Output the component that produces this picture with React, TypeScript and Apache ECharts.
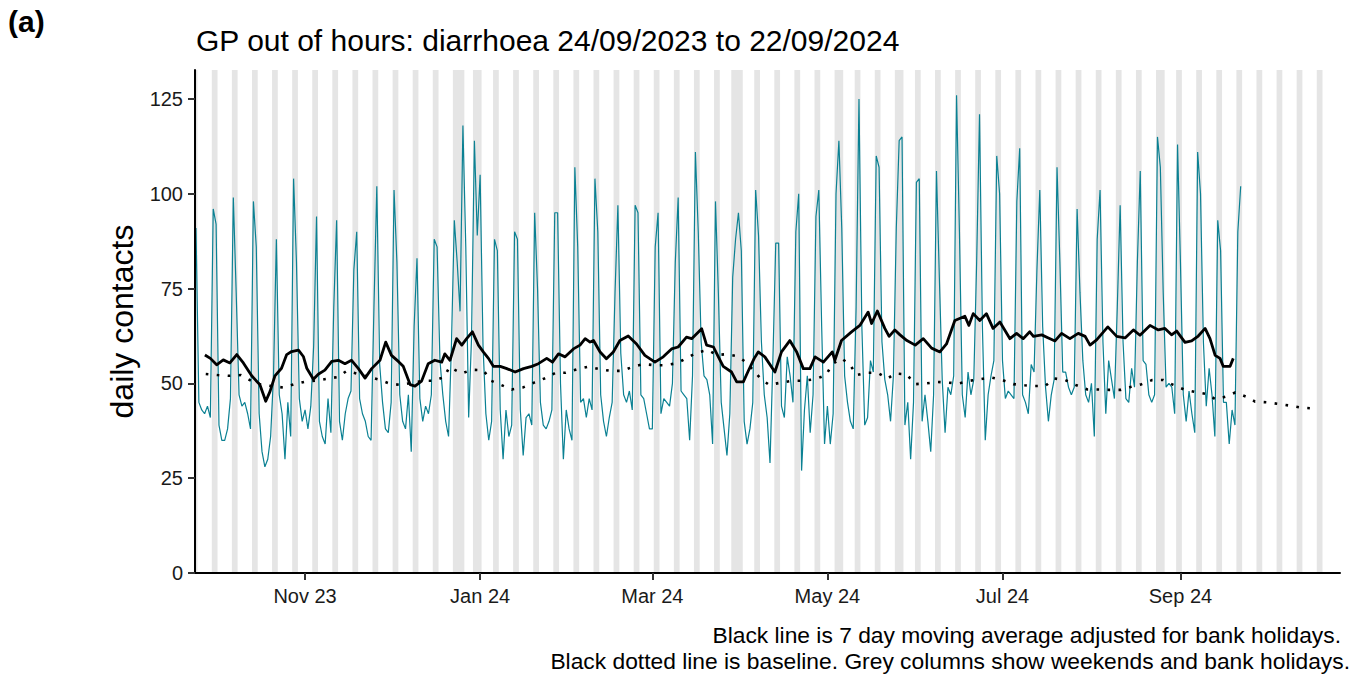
import React, { useEffect, useRef } from "react";
import * as echarts from "echarts";

// Day 0 = Sunday 24/09/2023
const startDate = "2023-09-24";

// Daily contacts, one row per week (Sun..Sat)
const dailyContacts = [
  91, 45, 43, 42, 44, 41, 96,
  92, 39, 35, 35, 38, 46, 99,
  74, 47, 44, 45, 42, 38, 98,
  86, 42, 32, 28, 30, 36, 52,
  88, 47, 42, 30, 45, 36, 104,
  82, 46, 40, 43, 38, 44, 60,
  94, 40, 36, 34, 46, 37, 70,
  93, 40, 35, 42, 46, 48, 80,
  90, 46, 42, 40, 36, 35, 70,
  102, 55, 45, 38, 37, 45, 101,
  82, 47, 40, 38, 47, 32, 65,
  83, 46, 40, 44, 42, 47, 88,
  86, 56, 47, 40, 36, 60, 93,
  82, 69, 118, 86, 41, 62, 114,
  89, 105, 60, 42, 35, 40, 88,
  85, 43, 30, 43, 36, 39, 90,
  88, 43, 31, 41, 42, 39, 95,
  75, 45, 39, 38, 40, 43, 95,
  95, 50, 30, 43, 38, 35, 107,
  86, 45, 46, 41, 46, 43, 104,
  90, 47, 40, 36, 41, 45, 74,
  97, 58, 47, 45, 48, 43, 97,
  95, 47, 46, 42, 38, 38, 86,
  95, 42, 46, 45, 44, 50, 82,
  99, 48, 47, 46, 35, 52, 111,
  90, 61, 52, 51, 47, 34, 98,
  74, 45, 38, 31, 42, 78, 88,
  95, 85, 40, 34, 38, 45, 101,
  89, 61, 47, 41, 29, 56, 87,
  87, 44, 41, 57, 52, 45, 90,
  100, 27, 43, 52, 37, 47, 94,
  101, 65, 34, 44, 34, 42, 100,
  114, 91, 52, 45, 40, 38, 70,
  125, 65, 39, 41, 56, 53, 110,
  107, 61, 51, 47, 40, 52, 91,
  114, 115, 39, 45, 30, 45, 103,
  104, 40, 47, 40, 32, 47, 106,
  78, 51, 37, 49, 47, 52, 126,
  90, 47, 41, 53, 47, 51, 82,
  121, 65, 35, 47, 52, 56, 110,
  100, 56, 46, 48, 47, 46, 98,
  112, 47, 45, 42, 55, 53, 80,
  101, 65, 49, 40, 47, 51, 107,
  82, 53, 53, 49, 47, 49, 96,
  74, 56, 47, 45, 50, 36, 88,
  101, 61, 42, 56, 51, 46, 70,
  97, 61, 46, 45, 54, 49, 82,
  106, 56, 55, 47, 45, 47, 115,
  107, 74, 49, 50, 49, 42, 113,
  82, 47, 40, 48, 42, 37, 111,
  100, 61, 44, 54, 47, 36, 93,
  85, 45, 45, 34, 43, 39, 90,
  102,
];

// 7 day moving average
const maDays = [
  3.1, 5, 7.2, 9.5, 11.8, 14.2, 16.5, 19.4, 22.3, 24.3, 25.8, 27.5, 29.8, 31.6, 33.3, 35.7, 37.4, 38.6, 40.9, 42.6,
  44.9, 47.3, 49.6, 51.9, 54.2, 56.6, 58.9, 61.2, 64.1, 66.1, 68.1, 70.5, 72.2, 74.6, 76.3, 78.6, 80.9, 83.2, 85.6, 86.7,
  88.5, 90.8, 92.6, 94.3, 96.3, 98.4, 100.1, 101.9, 103.6, 106.0, 108.3, 111.2, 114.1, 117.0, 119.3, 122.2, 124.2, 126.3, 128.6, 131.5,
  133.8, 135.6, 137.3, 138.5, 140.8, 143.0, 145.4, 147.7, 150.6, 153.5, 156.4, 159.9, 162.8, 165.7, 168.0, 170.9, 172.7, 176.2, 177.9, 180.3,
  182.0, 183.7, 186.6, 188.4, 190.7, 192.5, 194.5, 195.9, 198.2, 201.7, 204.0, 206.9, 209.3, 211.6, 213.9, 215.7, 218.6, 221.7, 222.6, 224.9,
  228.4, 231.3, 234.2, 235.4, 237.4, 240.0, 241.5, 243.5, 245.3, 247.7, 250.6, 253.4, 256.3, 259.2, 261.5, 264.4, 267.9, 269.3, 270.8, 273.1,
  275.4, 277.7, 280.1, 283.6, 285.9, 288.2, 290.5, 291.8, 294.7, 297.0, 299.3, 301.6, 304.5, 307.4, 309.8, 311.5, 313.8, 317.7, 320.8, 323.7,
  326.6, 328.9, 332.4, 335.3, 337.6, 339.9, 341.7, 344.6, 346.9, 349.2, 351.6, 353.3, 355.1, 356.8, 357.9, 360.3, 361.4,
];
const maValues = [
  57.5, 56.6, 54.9, 56.2, 55.4, 57.6, 55.4, 52.0, 49.6, 45.3, 47.9, 52.0, 54.0, 57.6, 58.4, 58.8, 57.1, 54.0, 51.1, 52.4,
  53.5, 55.8, 56.1, 55.2, 56.1, 53.9, 51.4, 53.9, 56.1, 60.9, 57.4, 55.8, 54.5, 49.7, 49.3, 50.6, 55.2, 56.1, 55.6, 57.8,
  56.1, 61.8, 60.1, 61.8, 63.6, 60.1, 58.3, 56.6, 54.5, 54.5, 53.9, 53.0, 53.9, 54.5, 55.2, 56.6, 55.6, 57.8, 57.0, 59.1,
  60.1, 61.8, 60.9, 61.3, 58.3, 56.5, 58.3, 61.3, 62.5, 60.4, 57.4, 55.6, 57.0, 59.1, 59.6, 62.2, 61.8, 64.4, 60.1, 59.6,
  57.0, 54.5, 53.0, 50.4, 50.4, 53.4, 56.6, 58.3, 57.0, 53.0, 58.3, 61.3, 58.3, 53.9, 53.9, 57.0, 55.6, 58.3, 56.1, 61.3,
  63.6, 65.3, 68.8, 65.8, 69.1, 64.5, 62.4, 64.1, 62.8, 61.3, 60.1, 61.8, 59.3, 58.3, 60.4, 66.6, 67.7, 65.3, 68.4, 66.6,
  68.4, 64.5, 66.2, 61.8, 63.2, 61.8, 63.6, 62.4, 62.8, 62.0, 61.2, 63.2, 61.8, 63.2, 62.4, 60.1, 61.5, 64.9, 62.4, 62.0,
  64.1, 62.7, 65.3, 64.1, 64.5, 62.8, 63.8, 60.8, 61.2, 62.5, 64.5, 61.8, 57.4, 56.6, 54.5, 54.5, 56.6,
];

// Baseline
const baselineDays = [
  3.4, 7.5, 11.6, 15.7, 19.2, 22.9, 30.7, 34.3, 38.2, 41.7, 45.5, 49.6, 52.5, 63.3, 67.3, 71.2, 79.0, 83.0, 86.5, 88.3,
  92.6, 96.0, 100.1, 102.8, 106.3, 110.0, 113.8, 117.8, 121.4, 125.3, 128.8, 132.7, 136.7, 140.8, 144.6, 148.6, 152.2, 155.9, 159.7, 163.6,
  167.5, 171.3, 174.5, 178.3, 181.4, 184.9, 188.4, 191.5, 196.7, 199.7, 203.8, 207.8, 211.6, 215.7, 219.5, 221.7, 224.9, 227.8, 230.2, 233.6,
  237.4, 241.0, 243.5, 247.6, 250.5, 254.5, 258.3, 262.1, 265.8, 269.7, 273.1, 277.0, 280.9, 284.8, 288.7, 292.1, 295.8, 299.1, 302.8, 306.5,
  310.6, 314.4, 318.1, 322.3, 325.8, 329.5, 333.2, 337.0, 340.5, 344.6, 348.3, 352.1, 355.3, 358.8, 362.1, 365.9, 369.0, 373.2, 377.2, 381.4,
  385.1, 389.1,
];
const baselineValues = [
  52.5, 52.2, 52.0, 52.2, 50.7, 49.6, 48.9, 49.8, 50.5, 50.7, 51.2, 51.7, 53.3, 51.1, 50.0, 49.6, 50.7, 50.7, 51.7, 54.3,
  52.6, 53.6, 53.5, 50.7, 49.6, 48.4, 48.9, 50.2, 51.3, 52.8, 52.8, 53.7, 54.4, 53.7, 53.3, 53.3, 54.4, 55.1, 54.8, 54.8,
  55.3, 56.8, 58.1, 58.8, 57.5, 57.7, 57.2, 55.7, 51.3, 49.6, 50.2, 50.7, 50.7, 51.1, 52.2, 55.1, 56.6, 55.0, 52.2, 52.8,
  52.8, 51.3, 52.6, 52.4, 49.8, 50.0, 50.4, 50.2, 50.0, 50.7, 51.1, 51.6, 50.9, 49.8, 49.5, 49.3, 49.3, 51.3, 50.9, 49.6,
  48.4, 48.4, 48.3, 48.3, 49.1, 49.8, 50.9, 50.9, 49.6, 48.3, 47.7, 47.2, 45.8, 46.5, 47.6, 46.5, 45.2, 45.0, 44.6, 44.1,
  43.6, 43.4,
];

// Bank holidays (day offsets): 25/12, 26/12, 01/01, 29/03, 01/04, 06/05, 27/05, 26/08
const bankHolidayDays = [92, 93, 99, 187, 190, 225, 246, 337];
const shadedLastDay = 392; // 20/10/2024

const tickDays = [38, 99, 159, 220, 281, 343];
const tickLabels = ["Nov 23", "Jan 24", "Mar 24", "May 24", "Jul 24", "Sep 24"];
const yTicks = [0, 25, 50, 75, 100, 125];

const FONT = "'Liberation Sans', Arial, Helvetica, sans-serif";
const TEAL = "#0b8193";

function shadedRanges(): [number, number][] {
  const base = new Date(startDate + "T00:00:00Z").getTime();
  const grey: boolean[] = [];
  for (let d = 0; d <= shadedLastDay; d++) {
    const dow = new Date(base + d * 86400000).getUTCDay();
    grey.push(dow === 0 || dow === 6 || bankHolidayDays.includes(d));
  }
  const ranges: [number, number][] = [];
  let s = -1;
  for (let d = 0; d <= shadedLastDay + 1; d++) {
    const g = d <= shadedLastDay && grey[d];
    if (g && s < 0) s = d;
    if (!g && s >= 0) {
      ranges.push([s - 0.5, d - 1 + 0.5]);
      s = -1;
    }
  }
  return ranges;
}

export default function App() {
  const ref = useRef<HTMLDivElement>(null);
  useEffect(() => {
    if (!ref.current) return;
    const chart = echarts.init(ref.current, undefined, { renderer: "svg" });
    const ranges = shadedRanges();
    chart.setOption({
      animation: false,
      backgroundColor: "#ffffff",
      grid: { left: 195, right: 25, top: 70, bottom: 105 },
      xAxis: {
        type: "value",
        min: -0.35,
        max: 398.6,
        z: 10,
        axisLine: { show: true, onZero: false, lineStyle: { color: "#000", width: 2 } },
        axisTick: { show: true, customValues: tickDays, length: 7, lineStyle: { color: "#333", width: 2 } },
        axisLabel: {
          customValues: tickDays,
          formatter: (v: number) => {
            const i = tickDays.findIndex((t) => Math.abs(t - v) < 0.01);
            return i >= 0 ? tickLabels[i] : "";
          },
          fontSize: 20,
          fontFamily: FONT,
          color: "#1a1a1a",
          margin: 13,
        },
        splitLine: { show: false },
      },
      yAxis: {
        type: "value",
        min: 0,
        max: 132.65,
        z: 10,
        name: "daily contacts",
        nameLocation: "middle",
        nameGap: 57,
        nameTextStyle: { fontSize: 32, fontFamily: FONT, color: "#000" },
        axisLine: { show: true, onZero: false, lineStyle: { color: "#000", width: 2 } },
        axisTick: { show: true, customValues: yTicks, length: 7, lineStyle: { color: "#333", width: 2 } },
        axisLabel: { customValues: yTicks, fontSize: 20, fontFamily: FONT, color: "#1a1a1a", margin: 12 },
        splitLine: { show: false },
      },
      series: [
        {
          type: "line",
          data: [],
          z: 1,
          silent: true,
          markArea: {
            silent: true,
            itemStyle: { color: "#e5e5e5" },
            data: ranges.map(([a, b]) => [{ xAxis: a }, { xAxis: b }]),
          },
        },
        {
          type: "line",
          z: 2,
          symbol: "none",
          silent: true,
          lineStyle: { color: TEAL, width: 1.2 },
          data: dailyContacts.map((v, i) => [i, v]),
        },
        {
          type: "line",
          z: 3,
          symbol: "none",
          silent: true,
          lineStyle: { color: "#000", width: 2.6, type: [2.6, 8.4] },
          data: baselineDays.map((d, i) => [d, baselineValues[i]]),
        },
        {
          type: "line",
          z: 4,
          symbol: "none",
          silent: true,
          lineStyle: { color: "#000", width: 2.8, join: "round" },
          data: maDays.map((d, i) => [d, maValues[i]]),
        },
      ],
      graphic: [
        {
          type: "text",
          left: 8,
          top: 6,
          style: { text: "(a)", font: `bold 30px ${FONT}`, fill: "#000" },
        },
        {
          type: "text",
          x: 196,
          y: 40,
          style: {
            text: "GP out of hours: diarrhoea 24/09/2023 to 22/09/2024",
            font: `30px ${FONT}`,
            fill: "#000",
            verticalAlign: "middle",
          },
        },
        {
          type: "text",
          x: 1341,
          y: 635,
          style: {
            text: "Black line is 7 day moving average adjusted for bank holidays.",
            font: `22.8px ${FONT}`,
            fill: "#000",
            align: "right",
            verticalAlign: "middle",
          },
        },
        {
          type: "text",
          x: 1350,
          y: 661,
          style: {
            text: "Black dotted line is baseline. Grey columns show weekends and bank holidays.",
            font: `22.8px ${FONT}`,
            fill: "#000",
            align: "right",
            verticalAlign: "middle",
          },
        },
      ],
    });
    return () => chart.dispose();
  }, []);
  return (
    <div
      ref={ref}
      style={{ position: "fixed", left: 0, top: 0, width: 1365, height: 678, background: "#fff" }}
    />
  );
}
